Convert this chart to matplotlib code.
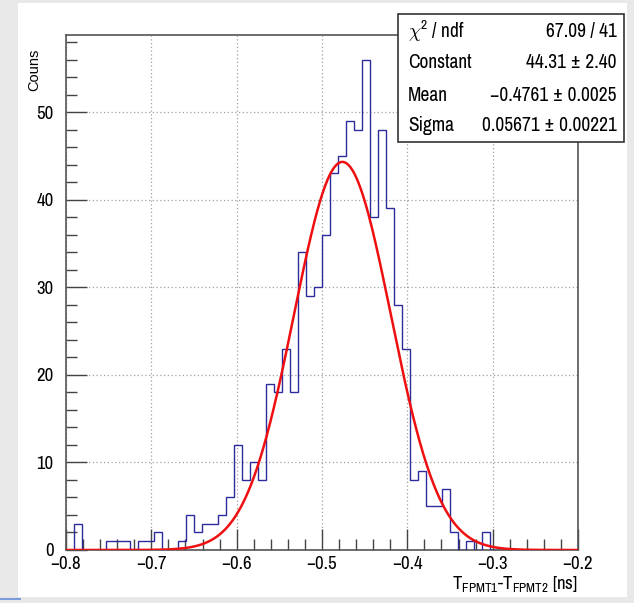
import numpy as np
import matplotlib
matplotlib.use("Agg")
import matplotlib.pyplot as plt
from matplotlib.patches import Rectangle
from matplotlib.ticker import MultipleLocator

NARROW = ['Archivo Narrow', 'DejaVu Sans']
plt.rcParams['font.family'] = NARROW
plt.rcParams['mathtext.fontset'] = 'custom'
plt.rcParams['mathtext.rm'] = 'Archivo Narrow'
plt.rcParams['mathtext.it'] = 'Archivo Narrow'
plt.rcParams['axes.unicode_minus'] = True

# ---- data ----
x_min, x_max, n_bins = -0.8, -0.2, 64
counts = [0, 3, 0, 0, 0, 1, 1, 1, 0, 1, 1, 2, 0, 0, 1, 4, 2, 3, 3, 4,
          6, 12, 8, 10, 8, 19, 18, 23, 18, 34, 29, 30, 36, 43, 45, 49, 48, 56, 38, 48,
          39, 28, 23, 8, 9, 5, 5, 7, 2, 0, 1, 0, 2, 0, 0, 0, 0, 0, 0, 0,
          0, 0, 0, 0]
fit_constant = 44.31
fit_mean = -0.4761
fit_sigma = 0.05671
stat_names = [r"$\chi^{2}$ / ndf", "Constant", "Mean", "Sigma"]
stat_values = ["67.09 / 41", "44.31 ± 2.40", "−0.4761 ± 0.0025", "0.05671 ± 0.00221"]
x_ticks = [-0.8, -0.7, -0.6, -0.5, -0.4, -0.3, -0.2]
y_ticks = [0, 10, 20, 30, 40, 50]

W, H = 634, 603
fig = plt.figure(figsize=(W / 100, H / 100), dpi=100, facecolor='#e9e9e9')
fig.patches.append(Rectangle((18 / W, 1 - 597 / H), (627 - 18) / W, (597 - 3) / H,
                             transform=fig.transFigure, facecolor='white', edgecolor='none', zorder=-10))
fig.lines.append(plt.Line2D([0, 20 / W], [1 - 599 / H, 1 - 599 / H], transform=fig.transFigure,
                            color='#7d9bd8', lw=1.5, zorder=-9))

ax = fig.add_axes([66 / W, 1 - 550 / H, (578 - 66) / W, (550 - 35) / H])
ax.set_facecolor('white')
edges = np.linspace(x_min, x_max, n_bins + 1)
ax.stairs(counts, edges, color='#2b2b9c', lw=1.0, baseline=0, zorder=3)

xf = np.linspace(x_min, x_max, 600)
yf = fit_constant * np.exp(-0.5 * ((xf - fit_mean) / fit_sigma) ** 2)
ax.plot(xf, yf, color='#ee1010', lw=1.8, zorder=4)

ax.set_xlim(x_min, x_max)
ax.set_ylim(0, 1.05 * max(counts))
ax.set_xticks(x_ticks)
ax.set_yticks(y_ticks)
ax.xaxis.set_minor_locator(MultipleLocator(0.02))
ax.yaxis.set_minor_locator(MultipleLocator(2))
ax.set_xticklabels([f"{v:.1f}".replace('-', '−') for v in x_ticks])
ax.tick_params(which='major', direction='in', length=15, width=1, labelsize=13.5, color='#444444', pad=4.5)
ax.tick_params(which='minor', direction='in', length=8, width=1, color='#444444')
ax.tick_params(axis='y', which='major', pad=9)
ax.grid(True, which='major', color='#a0a0a0', linestyle=(0, (1, 2)), lw=0.9)
for s in ax.spines.values():
    s.set_color('#555555')
    s.set_linewidth(1.2)

fig.text(34 / W, 1 - 70 / H, "Couns", rotation=90, ha='center', va='center',
         fontsize=10.5, family=['Liberation Sans', 'DejaVu Sans'])
ax.text(1.0, -0.047, r"$\mathrm{T_{FPMT1}}$-$\mathrm{T_{FPMT2}}$ [ns]", transform=ax.transAxes,
        ha='right', va='top', fontsize=13.5)

# stats box
bx0, bx1, by0, by1 = 398, 624, 14, 142
fig.patches.append(Rectangle((bx0 / W, 1 - by1 / H), (bx1 - bx0) / W, (by1 - by0) / H,
                             transform=fig.transFigure, facecolor='white', edgecolor='#333333',
                             lw=1.2, zorder=10))
row_y = [31, 62, 95, 126]
for name, val, yy in zip(stat_names, stat_values, row_y):
    fig.text(408 / W, 1 - yy / H, name, ha='left', va='center', fontsize=14, zorder=11)
    fig.text(617 / W, 1 - yy / H, val, ha='right', va='center', fontsize=14, zorder=11)

fig.savefig("out.png", dpi=100, facecolor=fig.get_facecolor())
